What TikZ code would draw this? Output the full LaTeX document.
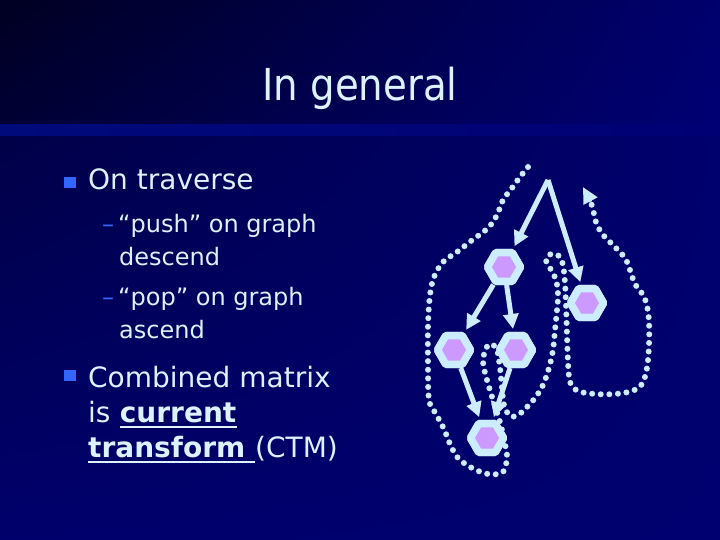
\documentclass[tikz,border=0pt]{standalone}
\usepackage{fontspec}
\setmainfont{DejaVu Sans}
\usepackage{graphicx}
\usetikzlibrary{shapes.geometric,arrows.meta,shadings}
\definecolor{lb}{RGB}{204,236,255}
\definecolor{tc}{RGB}{220,242,255}
\definecolor{purp}{RGB}{204,153,255}
\definecolor{bul}{RGB}{51,102,255}
\definecolor{bgA}{RGB}{0,0,34}
\definecolor{bgB}{RGB}{0,0,52}
\definecolor{bgC}{RGB}{0,0,110}
\definecolor{bgD}{RGB}{0,0,116}
\definecolor{bgE}{RGB}{0,10,122}
\definecolor{bgF}{RGB}{0,0,72}
\definecolor{bgG}{RGB}{0,0,108}
\definecolor{bgH}{RGB}{0,0,112}
\begin{document}
\begin{tikzpicture}[x=1pt,y=-1pt,
  txt/.style={text=tc,inner sep=0pt,anchor=base west,font=\fontsize{28}{33}\selectfont},
  subtxt/.style={text=tc,inner sep=0pt,anchor=base west,font=\fontsize{24}{29}\selectfont},
  dashmark/.style={text=bul,inner sep=0pt,anchor=base west,font=\fontsize{24}{29}\selectfont},
  bulletbox/.style={fill=bul,draw=none,inner sep=0pt,minimum width=12pt,minimum height=11pt},
  hexnode/.style={regular polygon,regular polygon sides=6,minimum size=33pt,inner sep=0pt,
    draw=lb,line width=7.5pt,line join=round,fill=purp},
  arr/.style={draw=lb,line width=5pt,-{Triangle[length=15pt,width=15pt]},shorten >=3pt},
  dotline/.style={draw=lb,line width=6pt,line cap=round,dash pattern=on 0pt off 8.6pt,
    -{Triangle[length=16pt,width=15pt]}},
  uline/.style={draw=tc,line width=2.8pt}]
% background
\useasboundingbox (0,0) rectangle (720,540);
\shade[upper left=bgA,lower left=bgB,upper right=bgC,lower right=bgD]
  (0,0) rectangle (720,125);
\shade[left color=bgE,right color=bgD]
  (0,125) rectangle (720,137);
\shade[upper left=bgF,lower left=bgG,upper right=bgC,lower right=bgH]
  (0,137) rectangle (720,540);
% title
\node[text=tc,inner sep=0pt,anchor=base,font=\fontsize{44}{50}\selectfont] (title) at (360,101)
  {\scalebox{0.88}[1]{In general}};
% bullets and text
\node[bulletbox] (b1) at (69.5,182.5) {};
\node[txt] (l1) at (88,190) {On traverse};
\node[dashmark] (d1) at (102,233) {–};
\node[subtxt] (l2) at (118,233) {“push” on graph};
\node[subtxt] (l3) at (119,265) {descend};
\node[dashmark] (d2) at (102,305) {–};
\node[subtxt] (l4) at (118,305) {“pop” on graph};
\node[subtxt] (l5) at (119,338) {ascend};
\node[bulletbox] (b2) at (69.5,375.5) {};
\node[txt] (l6) at (88,387) {Combined matrix};
\node[txt] (l7) at (88,422) {is\kern8.9pt};
\node[txt,font=\fontsize{28}{33}\selectfont\bfseries] (cur) at (l7.base east) {current};
\node[txt,font=\fontsize{28}{33}\selectfont\bfseries] (tra) at (88,457) {transform\kern9.5pt};
\node[txt] (ctm) at (tra.base east) {(CTM)};
\draw[uline] ([yshift=-5pt]cur.base west) -- ([yshift=-5pt]cur.base east);
\draw[uline] ([yshift=-5pt]tra.base west) -- ([yshift=-5pt]tra.base east);
% traversal dotted path
\draw[dotline] plot[smooth,tension=0.55] coordinates {
  (528,167) (520,177) (512,188) (503,200) (497,215) (488,228) (471,241) (457,252)
  (443,262) (434,277) (430,295) (428,325) (428,365) (429,400) (436,414) (444,429)
  (450,444) (458,458) (472,468) (488,474) (503,472) (507,456) (504,440) (500,422)
  (493,400) (487,380) (483,362) (486,348) (491,344) (497,350) (500,368) (502,388)
  (504,405) (510,416) (518,415) (526,408) (535,398) (543,385) (549,368) (553,350)
  (555,330) (557,310) (558,295) (556,280) (550,268) (546,260) (551,254) (559,256)
  (563,265) (565,283) (566,305) (567,335) (568,362) (570,382) (578,391) (595,394)
  (615,394) (632,391) (642,384) (647,368) (649,345) (649,322) (647,306) (643,295)
  (635,284) (630,270) (625,258) (614,246) (604,236) (597,225) (594,214) (591,203) (583,187)};
% graph nodes
\coordinate (top) at (548,180);
\node[hexnode] (A) at (504,267) {};
\node[hexnode] (B) at (587,303) {};
\node[hexnode] (C) at (454,350) {};
\node[hexnode] (D) at (516,350) {};
\node[hexnode] (E) at (487,438) {};
\draw[arr] (top) -- (A);
\draw[arr] (top) -- (B);
\draw[arr] (A) -- (C);
\draw[arr] (A) -- (D);
\draw[arr] (C) -- (E);
\draw[arr] (D) -- (E);
\node[hexnode] at (A) {};
\node[hexnode] at (B) {};
\node[hexnode] at (C) {};
\node[hexnode] at (D) {};
\node[hexnode] at (E) {};
\end{tikzpicture}
\end{document}
